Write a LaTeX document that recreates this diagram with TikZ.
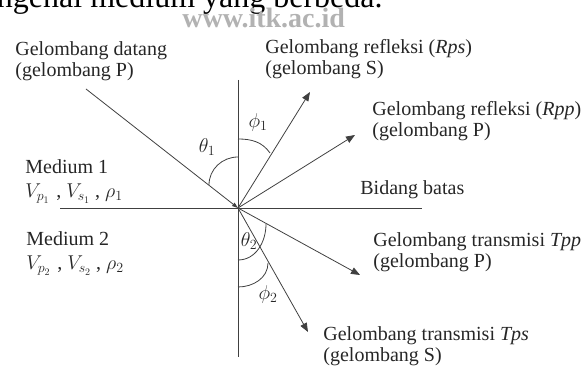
\documentclass[tikz,border=0pt]{standalone}
\usepackage{fix-cm}
\usepackage{fontspec}
\setmainfont{Liberation Serif}
\usetikzlibrary{arrows.meta}

\begin{document}
\begin{tikzpicture}[x=1pt,y=1pt,line width=0.8pt,draw=black!75,
    >={Triangle[length=9pt,width=7pt]},
    every node/.style={inner sep=0pt,text=black!85,font=\fontsize{20}{21.5}\selectfont},
    lbl/.style={anchor=base west,align=left}]
  \useasboundingbox(0,0)rectangle(584,369);
  \node[anchor=base east,text=black,font=\fontsize{32}{36}\selectfont](head)at(383,361){ngenal medium yang berbeda.};
  \node[anchor=base west,text=black!30,font=\fontsize{28}{30}\selectfont\bfseries](wm)at(182,341){www.itk.ac.id};
  \coordinate(O)at(238,161);
  \coordinate(top)at(238,289);\coordinate(bot)at(238,12);
  \coordinate(left)at(60,161);\coordinate(right)at(422,161);
  \coordinate(inc)at(86,280);
  \coordinate(rps)at(310,277);\coordinate(rpp)at(355,234);
  \coordinate(tpp)at(360,94);\coordinate(tps)at(308,37);
  \draw(top)--(bot)(left)--(right);
  \draw[-{Triangle[length=6pt,width=4pt]}](inc)--(O);
  \draw[->](O)--(rps);\draw[->](O)--(rpp);
  \draw[->](O)--(tpp);\draw[->](O)--(tps);
  \draw(238,212)to[out=180,in=90](209,184);
  \draw(238,230)to[out=0,in=125](270,216);
  \draw(266,145)to[out=-90,in=0](238,109);
  \draw(268,106)to[out=-90,in=0](238,82);
  \node(t1)at(207,222){$\theta_1$};
  \node(f1)at(258,246){$\phi_1$};
  \node(t2)at(249,128){$\theta_2$};
  \node(f2)at(268,74){$\phi_2$};
  \node[lbl](linc)at(15,292){Gelombang datang\\(gelombang P)};
  \node[lbl](lrps)at(265,294){Gelombang refleksi (\textit{Rps})\\(gelombang S)};
  \node[lbl](lrpp)at(372,232){Gelombang refleksi (\textit{Rpp})\\(gelombang P)};
  \node[lbl](med1)at(25,171){Medium 1\\[3pt]$V_{p_1}$\,\,, $V_{s_1}$ , $\rho_1$};
  \node[lbl](bid)at(360,174){Bidang batas};
  \node[lbl](med2)at(26,99){Medium 2\\[3pt]$V_{p_2}$\,\,, $V_{s_2}$ , $\rho_2$};
  \node[lbl](ltpp)at(373,101){Gelombang transmisi \textit{Tpp}\\(gelombang P)};
  \node[lbl](ltps)at(323,7){Gelombang transmisi \textit{Tps}\\(gelombang S)};
\end{tikzpicture}
\end{document}
